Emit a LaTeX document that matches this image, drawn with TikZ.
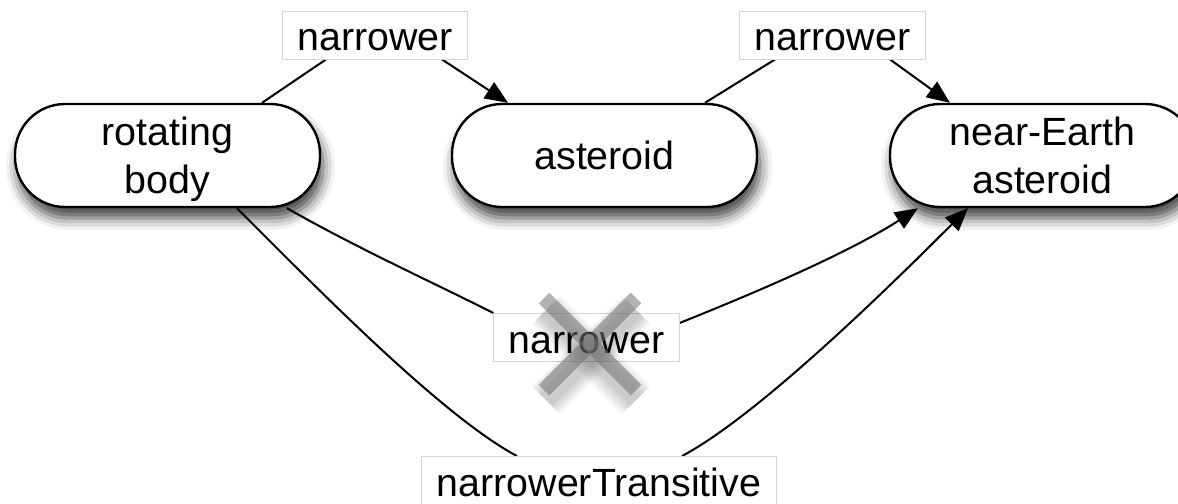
\documentclass[tikz,border=0pt]{standalone}
\usepackage{fontspec}
\setmainfont{Liberation Sans}
\usetikzlibrary{arrows.meta,shadows.blur}

\pgfdeclarelayer{front}
\pgfsetlayers{main,front}

\tikzset{
  concept/.style={draw=black, line width=1.35pt, fill=white, rounded corners=1cm,
    minimum width=6.1cm, minimum height=2.06cm, align=center, inner sep=0pt,
    text depth=0pt, font=\fontsize{22.4}{27.3}\selectfont,
    blur shadow={shadow xshift=0.06cm, shadow yshift=-0.22cm,
      shadow blur radius=0.24cm, shadow opacity=75}},
  rel/.style={draw=black!17, line width=0.5pt, fill=white, minimum height=0.96cm,
    inner xsep=0.3cm, inner ysep=0pt, text height=0.63cm, text depth=0pt,
    font=\fontsize{22.4}{27.3}\selectfont},
  link/.style={draw=black, line width=1.15pt},
  linkarrow/.style={link, -{Triangle[length=0.46cm, width=0.38cm]}},
  crossbar/.style={line width=0.3cm, draw=black!55, opacity=0.55},
  crossshade/.style={draw=black, opacity=0.03},
}

\begin{document}
\begin{tikzpicture}[x=0.02cm, y=-0.02cm]
  \useasboundingbox (0,0) rectangle (1178,504);

  % concepts
  \node[concept] (rb)  at (167.5,155.5) {rotating\\body};
  \node[concept] (ast) at (604.5,155.5) {asteroid};
  \node[concept] (ne)  at (1042.5,155.5) {near-Earth\\asteroid};

  % relation labels, kept above the links
  \begin{pgfonlayer}{front}
    \node[rel] (l1) at (375,35) {narrower};
    \node[rel] (l2) at (832.5,35) {narrower};
    \node[rel] (lm) at (586.5,337.5) {narrower};
    \node[rel] (lb) at (599,480.5) {narrowerTransitive};
  \end{pgfonlayer}

  % direct links
  \draw[link] ([xshift=1.89cm]rb.north) -- ([xshift=-0.98cm]l1.south);
  \draw[linkarrow] ([xshift=1.34cm]l1.south) -- ([xshift=-1.93cm]ast.north);
  \draw[link] ([xshift=2.01cm]ast.north) -- ([xshift=-1.15cm]l2.south);
  \draw[linkarrow] ([xshift=1.15cm]l2.south) -- ([xshift=-1.85cm]ne.north);

  % skipped link
  \draw[link] ([xshift=2.39cm]rb.south) .. controls +(70,40) and +(-55,-28) .. (lm.north west);
  \draw[linkarrow] ([yshift=0.29cm]lm.east) .. controls +(75,-30) and +(-70,45) .. ([xshift=-2.49cm]ne.south);

  % transitive link
  \draw[link] ([xshift=1.39cm]rb.south) .. controls +(80,80) and +(-75,-40) .. ([xshift=-1.64cm]lb.north);
  \draw[linkarrow] ([xshift=1.66cm]lb.north) .. controls +(75,-40) and +(-85,85) .. ([xshift=-1.49cm]ne.south);

  \begin{pgfonlayer}{front}
    % soft shadow under the cross
    \foreach \w in {0.80,0.72,0.64,0.56,0.48,0.40,0.32} {
      \draw[crossshade, line width=\w cm] (546,310) -- (636,400);
      \draw[crossshade, line width=\w cm] (546,400) -- (636,310);
    }
    % the cross striking out the skipped link
    \draw[crossbar] (544,298) -- (636,390);
    \draw[crossbar] (544,390) -- (636,298);
  \end{pgfonlayer}
\end{tikzpicture}
\end{document}
